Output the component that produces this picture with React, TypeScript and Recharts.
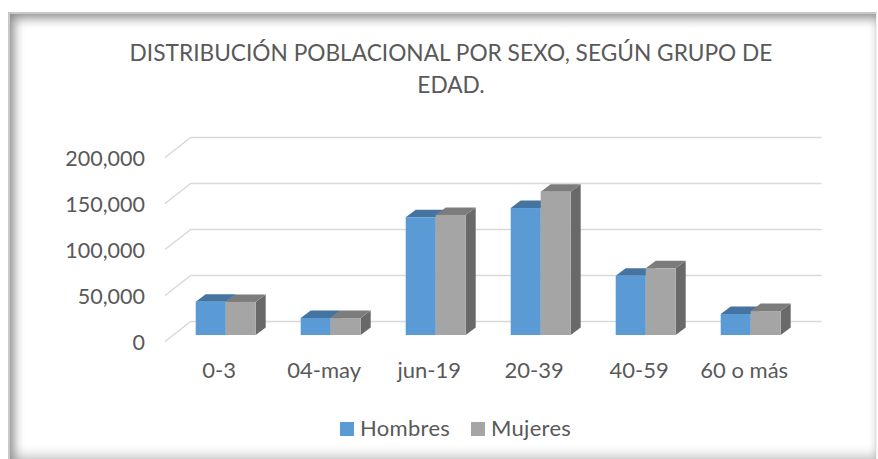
import React from 'react';
import { BarChart, Bar, XAxis, YAxis, CartesianGrid, Legend } from 'recharts';

const categories = ['0-3', '04-may', 'jun-19', '20-39', '40-59', '60 o más'];
const hombres = [36200, 18500, 128000, 138000, 64500, 22800];
const mujeres = [36000, 18400, 130500, 155800, 72500, 26000];
const yTicks = [0, 50000, 100000, 150000, 200000];
const titleLines = ['DISTRIBUCIÓN POBLACIONAL POR SEXO, SEGÚN GRUPO DE', 'EDAD.'];

const data = categories.map((name, i) => ({ name, Hombres: hombres[i], Mujeres: mujeres[i] }));

const FONT = 'Lato, sans-serif';
const TEXT = '#595959';
const DEPTH_X = 10;
const DEPTH_Y = 7.5;

// fake 3D box: front face comes from the scale, top and side are just offset
const Box3D = ({ x, y, width, height, front, top, side }: any) => (
  <g>
    <path
      d={`M${x + width},${y} l${DEPTH_X},${-DEPTH_Y} v${height} l${-DEPTH_X},${DEPTH_Y} z`}
      fill={side}
    />
    <path
      d={`M${x},${y} l${DEPTH_X},${-DEPTH_Y} h${width} l${-DEPTH_X},${DEPTH_Y} z`}
      fill={top}
    />
    <rect x={x} y={y} width={width} height={height} fill={front} />
  </g>
);

const WallLine = ({ x1, x2, y1 }: any) => (
  <path
    d={`M${x1 - 7.7},${y1 + 6.5} L${x1 + 18},${y1 - 13.5} L${x2 + 19},${y1 - 13.5}`}
    fill="none"
    stroke="#d9d9d9"
    strokeWidth={1.5}
  />
);

const YTick = ({ y, payload }: any) => (
  <text x={145} y={y + 7} dy={7.5} textAnchor="end" fontFamily={FONT} fontSize={21.5} fill={TEXT}>
    {payload.value.toLocaleString('en-US')}
  </text>
);

const LegendBox = () => (
  <div style={{ position: 'absolute', left: 0, top: 0, fontFamily: FONT, fontSize: 22, letterSpacing: 0.3, color: TEXT }}>
    <div style={{ position: 'absolute', left: 340, top: 422, width: 14, height: 13.5, background: '#5B9BD5' }} />
    <div style={{ position: 'absolute', left: 360, top: 415, lineHeight: '26px' }}>Hombres</div>
    <div style={{ position: 'absolute', left: 470.5, top: 422, width: 14, height: 13.5, background: '#A5A5A5' }} />
    <div style={{ position: 'absolute', left: 491, top: 415, lineHeight: '26px' }}>Mujeres</div>
  </div>
);

export default function App() {
  return (
    <div style={{ position: 'absolute', left: 0, top: 0, width: 878, height: 459, overflow: 'hidden', background: '#fff' }}>
      <div
        style={{
          position: 'absolute',
          left: 8,
          top: 12,
          width: 866,
          height: 447,
          borderTop: '2px solid #c8c8c8',
          borderLeft: '2px solid #c8c8c8',
          borderRight: '1px solid #f2f2f2',
          boxShadow: 'inset 4px 4px 11px #8a8a8a, inset 0 -12px 10px -4px #dcdcdc',
        }}
      />
      <div
        style={{
          position: 'absolute',
          left: 0,
          top: 37,
          width: 902,
          textAlign: 'center',
          fontFamily: FONT,
          fontSize: 22.7,
          lineHeight: '32px',
          color: TEXT,
        }}
      >
        {titleLines.map((line) => (
          <div key={line}>{line}</div>
        ))}
      </div>
      <div style={{ position: 'absolute', left: 0, top: 0 }}>
        <BarChart
          width={878}
          height={459}
          data={data}
          barSize={30}
          barGap={0}
          margin={{ top: 151, right: 75.3, bottom: 84, left: 72.7 }}
        >
          <CartesianGrid vertical={false} horizontal={(props: any) => <WallLine key={props.key} {...props} />} />
          <XAxis
            dataKey="name"
            height={40}
            axisLine={false}
            tickLine={false}
            tickMargin={21}
            tick={{ fontFamily: FONT, fontSize: 22, fill: TEXT, dx: -6 }}
          />
          <YAxis
            width={100}
            domain={[0, 200000]}
            ticks={yTicks}
            axisLine={false}
            tickLine={false}
            tick={<YTick />}
          />
          <Legend content={<LegendBox />} wrapperStyle={{ left: 0, top: 0, width: 878, height: 0 }} />
          <Bar
            dataKey="Hombres"
            fill="#5B9BD5"
            isAnimationActive={false}
            shape={(p: any) => <Box3D {...p} front="#5B9BD5" top="#44749F" side="#44749F" />}
          />
          <Bar
            dataKey="Mujeres"
            fill="#A5A5A5"
            isAnimationActive={false}
            shape={(p: any) => <Box3D {...p} front="#A5A5A5" top="#7C7C7C" side="#696969" />}
          />
        </BarChart>
      </div>
    </div>
  );
}
